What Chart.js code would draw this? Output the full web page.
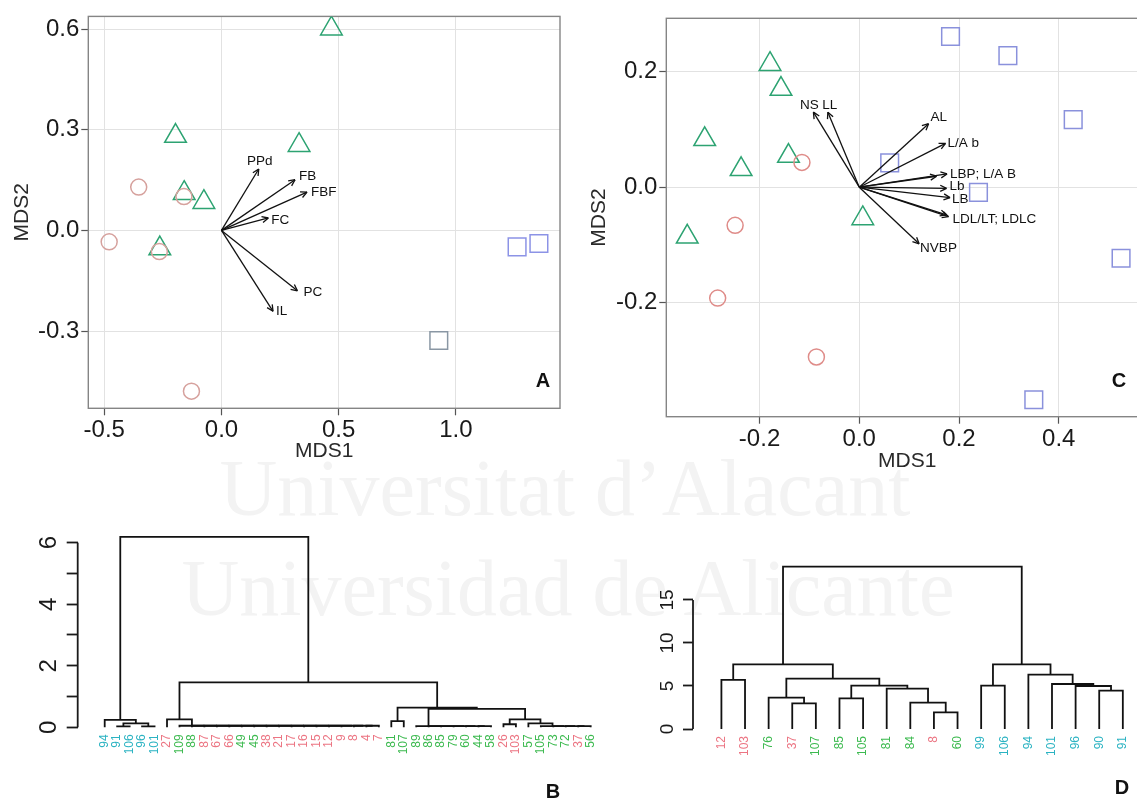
<!DOCTYPE html>
<html>
<head>
<meta charset="utf-8">
<script src="https://cdn.jsdelivr.net/npm/chart.js@4"></script>
<style>
html, body { margin: 0; padding: 0; background: #fff; overflow: hidden; }
#wrap { position: relative; width: 1137px; height: 801px; overflow: hidden; }
canvas { position: absolute; }
.wm { position: absolute; transform: translate(-50%, -50%); font-family: "Liberation Serif", "DejaVu Serif", serif; font-size: 80px; color: #f3f3f3; white-space: nowrap; }
.lab { position: absolute; transform: translate(-50%, -50%); font-family: "Liberation Sans", Arial, sans-serif; font-weight: bold; font-size: 20px; color: #111; }
</style>
</head>
<body>
<div id="wrap">
  <div class="wm" style="left:565px;top:488px">Universitat d’Alacant</div>
  <div class="wm" style="left:568px;top:588px">Universidad de Alicante</div>
  <canvas id="cA" width="580" height="480" style="left:0;top:0"></canvas>
  <canvas id="cC" width="600" height="480" style="left:580px;top:0"></canvas>
  <canvas id="cB" width="620" height="281" style="left:0;top:520px"></canvas>
  <canvas id="cD" width="517" height="281" style="left:620px;top:520px"></canvas>
  <div class="lab" style="left:543px;top:380px">A</div>
  <div class="lab" style="left:1119px;top:380px">C</div>
  <div class="lab" style="left:553px;top:791px">B</div>
  <div class="lab" style="left:1122px;top:787px">D</div>
</div>
<script>
// ---- panel A: MDS ordination, site scores + variable vectors ----
const aCircles   = [[-0.353, 0.129], [-0.479, -0.034], [-0.128, -0.479], [-0.160, 0.101], [-0.265, -0.063]];
const aTriangles = [[0.469, 0.601], [-0.196, 0.281], [0.331, 0.254], [-0.159, 0.111], [-0.075, 0.084], [-0.263, -0.054]];
const aSquares   = [[1.261, -0.049], [1.354, -0.039], [0.927, -0.328]];
const aVarLabel  = ['PPd', 'FB', 'FBF', 'FC', 'PC', 'IL'];
const aVarX      = [0.159, 0.314, 0.365, 0.200, 0.324, 0.220];
const aVarY      = [0.183, 0.151, 0.114, 0.037, -0.180, -0.241];
const aTicksX    = [-0.5, 0.0, 0.5, 1.0];
const aTicksY    = [-0.3, 0.0, 0.3, 0.6];
const aTickLabelsX = ['-0.5', '0.0', '0.5', '1.0'];
const aTickLabelsY = ['-0.3', '0.0', '0.3', '0.6'];

// ---- panel C ----
const cCircles   = [[-0.115, 0.043], [-0.249, -0.066], [-0.284, -0.192], [-0.086, -0.294]];
const cTriangles = [[-0.179, 0.213], [-0.157, 0.170], [-0.310, 0.083], [-0.237, 0.031], [-0.142, 0.054], [-0.345, -0.086], [0.007, -0.054]];
const cSquares   = [[0.183, 0.261], [0.298, 0.228], [0.429, 0.117], [0.061, 0.042], [0.239, -0.009], [0.525, -0.123], [0.350, -0.368]];
const cVarLabel  = ['NS', 'LL', 'AL', 'L/A b', 'LBP; L/A B', '', 'Lb', 'LB', 'LDL/LT; LDLC', '', 'NVBP'];
const cVarX      = [-0.092, -0.063, 0.139, 0.173, 0.176, 0.155, 0.175, 0.182, 0.179, 0.175, 0.120];
const cVarY      = [0.130, 0.130, 0.110, 0.076, 0.023, 0.019, -0.002, -0.018, -0.051, -0.048, -0.098];
const cTicksX    = [-0.2, 0.0, 0.2, 0.4];
const cTicksY    = [-0.2, 0.0, 0.2];
const cTickLabelsX = ['-0.2', '0.0', '0.2', '0.4'];
const cTickLabelsY = ['-0.2', '0.0', '0.2'];

// ---- panel B: dendrogram (merge rows like hclust: -n = leaf n, +k = row k) ----
const bLeaves = ['94','91','106','96','101','27','109','88','87','67','66','49','45','38','21','17','16','15','12','9','8','4','7',
                 '81','107','89','86','85','79','60','44','58','26','103','57','105','73','72','37','56'];
const bGroups = ['c','c','c','c','c','r','g','g','r','r','r','g','g','r','r','r','r','r','r','r','r','r','r',
                 'g','g','g','g','g','g','g','g','g','r','r','g','g','g','g','r','g'];
const bMerges = [
  [-2, -3, 0.03], [-4, -5, 0.03], [1, 2, 0.13], [-1, 3, 0.24],
  [-22, -23, 0.05], [-21, 5, 0.05], [-20, 6, 0.05], [-19, 7, 0.05], [-18, 8, 0.05], [-17, 9, 0.05],
  [-16, 10, 0.05], [-15, 11, 0.05], [-14, 12, 0.05], [-13, 13, 0.05], [-12, 14, 0.05], [-11, 15, 0.05],
  [-10, 16, 0.05], [-9, 17, 0.05], [-8, 18, 0.05], [-7, 19, 0.05],
  [-6, 20, 0.26],
  [-24, -25, 0.20],
  [-31, -32, 0.04], [-30, 23, 0.04], [-29, 24, 0.04], [-28, 25, 0.04], [-27, 26, 0.04], [-26, 27, 0.04],
  [-33, -34, 0.10],
  [-39, -40, 0.04], [-38, 30, 0.04], [-37, 31, 0.04], [-36, 32, 0.04],
  [-35, 33, 0.13],
  [29, 34, 0.26],
  [28, 35, 0.60],
  [22, 36, 0.64],
  [21, 37, 1.46],
  [4, 38, 6.19]
];
const bAxisTicks = [0, 1, 2, 3, 4, 5, 6];
const bTickLabels = [0, 2, 4, 6];

// ---- panel D ----
const dLeaves = ['12','103','76','37','107','85','105','81','84','8','60','99','106','94','101','96','90','91'];
const dGroups = ['r','r','g','r','g','g','g','g','g','r','g','c','c','c','c','c','c','c'];
const dMerges = [
  [-10, -11, 1.94], [-4, -5, 2.98], [-9, 1, 3.06], [-6, -7, 3.57], [-3, 2, 3.64],
  [-17, -18, 4.46], [-8, 3, 4.69], [-16, 6, 5.00], [4, 7, 5.04], [-12, -13, 5.04],
  [-15, 8, 5.23], [-1, -2, 5.70], [5, 9, 5.85], [-14, 11, 6.32], [12, 13, 7.52],
  [10, 14, 7.52], [15, 16, 18.87]
];
const dAxisTicks = [0, 5, 10, 15];
const dTickLabels = [0, 5, 10, 15];

const FONT = '"Liberation Sans", Arial, Helvetica, sans-serif';
Chart.defaults.font.family = FONT;
Chart.defaults.animation = false;
Chart.defaults.plugins.legend.display = false;
Chart.defaults.plugins.tooltip.enabled = false;

const labelColors = { c: '#2bb3c2', r: '#ec7583', g: '#3dba50' };

// grey panel border around the plotting area
const framePlugin = {
  id: 'frame',
  beforeDatasetsDraw(chart, args, o) {
    const a = chart.chartArea, ctx = chart.ctx;
    ctx.save();
    ctx.strokeStyle = o.color;
    ctx.lineWidth = o.width;
    ctx.strokeRect(a.left, a.top, a.right - a.left, a.bottom - a.top);
    ctx.restore();
  }
};

// arrow heads and variable names on the vector datasets
const arrowPlugin = {
  id: 'arrows',
  afterDatasetsDraw(chart) {
    const ctx = chart.ctx;
    chart.data.datasets.forEach((ds, i) => {
      if (ds.arrowLabel === undefined) return;
      const pts = chart.getDatasetMeta(i).data;
      const p0 = pts[0], p1 = pts[1];
      const ang = Math.atan2(p1.y - p0.y, p1.x - p0.x);
      ctx.save();
      ctx.strokeStyle = '#111';
      ctx.lineWidth = 1.3;
      ctx.beginPath();
      [-0.45, 0.45].forEach(d => {
        ctx.moveTo(p1.x, p1.y);
        ctx.lineTo(p1.x - 7 * Math.cos(ang + d), p1.y - 7 * Math.sin(ang + d));
      });
      ctx.stroke();
      if (ds.arrowLabel) {
        const [dx, dy, align] = ds.labelOffset;
        ctx.font = '13.5px ' + FONT;
        ctx.fillStyle = '#111';
        ctx.textAlign = align;
        ctx.textBaseline = 'middle';
        ctx.fillText(ds.arrowLabel, p1.x + dx, p1.y + dy);
      }
      ctx.restore();
    });
  }
};

function mdsChart(id, p) {
  const pts = arr => arr.map(([x, y]) => ({ x, y }));
  const arrows = p.varX.map((vx, i) => ({
    data: [{ x: 0, y: 0 }, { x: vx, y: p.varY[i] }],
    showLine: true, pointRadius: 0, borderColor: '#111', borderWidth: 1.3,
    arrowLabel: p.varLabel[i], labelOffset: p.labelOffset[i], order: 0
  }));
  const axisCommon = {
    type: 'linear',
    border: { display: false },
    grid: { color: '#e2e2e2', lineWidth: 1, tickColor: '#555', tickLength: 7, tickWidth: 1.2 },
  };
  return new Chart(document.getElementById(id), {
    type: 'scatter',
    data: {
      datasets: [
        ...arrows,
        { data: pts(p.circles), pointStyle: 'circle', pointRadius: 8, borderWidth: 1.5,
          borderColor: p.circleColor, backgroundColor: 'rgba(0,0,0,0)', order: 1 },
        { data: pts(p.triangles), pointStyle: 'triangle', pointRadius: 12.5, borderWidth: 1.5,
          borderColor: p.triColor, backgroundColor: 'rgba(0,0,0,0)', order: 2 },
        { data: pts(p.squares), pointStyle: 'rect', pointRadius: 12.5, borderWidth: 1.5,
          borderColor: p.squareColor, backgroundColor: 'rgba(0,0,0,0)', order: 3 }
      ]
    },
    options: {
      responsive: false,
      layout: { padding: p.padding },
      scales: {
        x: {
          ...axisCommon, min: p.xMin, max: p.xMax,
          afterBuildTicks: s => { s.ticks = p.ticksX.map(v => ({ value: v })); },
          afterFit: s => { s.height = p.xAxisH; },
          ticks: { autoSkip: false, maxRotation: 0, padding: 1, color: '#1a1a1a',
                   font: { size: 24 }, callback: (v, i) => p.tickLabelsX[i] },
          title: { display: true, text: 'MDS1', color: '#2a2a2a', font: { size: 21 },
                   padding: { top: 0, bottom: p.xTitlePad } }
        },
        y: {
          ...axisCommon, min: p.yMin, max: p.yMax,
          afterBuildTicks: s => { s.ticks = p.ticksY.map(v => ({ value: v })); },
          afterFit: s => { s.width = p.yAxisW; },
          ticks: { autoSkip: false, padding: 2, color: '#1a1a1a',
                   font: { size: 24 }, callback: (v, i) => p.tickLabelsY[i] },
          title: { display: true, text: 'MDS2', color: '#2a2a2a', font: { size: 21 },
                   padding: { top: p.yTitlePad, bottom: 0 } }
        }
      },
      plugins: { frame: { color: '#858585', width: 1.4 } }
    },
    plugins: [framePlugin, arrowPlugin]
  });
}

// turn merge rows into the U shaped links of the tree
function dendroLinks(merges) {
  const nodes = [];
  const pos = r => r < 0 ? { x: -r - 1, y: 0 } : nodes[r - 1];
  return merges.map(([a, b, h]) => {
    const pa = pos(a), pb = pos(b);
    nodes.push({ x: (pa.x + pb.x) / 2, y: h });
    return [{ x: pa.x, y: pa.y }, { x: pa.x, y: h }, { x: pb.x, y: h }, { x: pb.x, y: pb.y }];
  });
}

// y axis line, rotated tick labels and coloured leaf labels
const dendroPlugin = {
  id: 'dendro',
  afterDraw(chart, args, o) {
    const ctx = chart.ctx, xs = chart.scales.x, ys = chart.scales.y;
    const left = chart.chartArea.left, y0 = ys.getPixelForValue(0);
    ctx.save();
    ctx.strokeStyle = '#1a1a1a';
    ctx.lineWidth = 1.8;
    ctx.beginPath();
    ctx.moveTo(left, y0);
    ctx.lineTo(left, ys.getPixelForValue(o.axisTop));
    ctx.stroke();

    ctx.fillStyle = '#1a1a1a';
    ctx.font = o.tickSize + 'px ' + FONT;
    ctx.textAlign = 'center';
    ctx.textBaseline = 'alphabetic';
    o.tickLabels.forEach(v => {
      ctx.save();
      ctx.translate(left - o.tickGap, ys.getPixelForValue(v));
      ctx.rotate(-Math.PI / 2);
      ctx.fillText(String(v), 0, 0);
      ctx.restore();
    });

    ctx.font = '12px ' + FONT;
    ctx.textAlign = 'right';
    ctx.textBaseline = 'middle';
    o.leaves.forEach((lab, i) => {
      ctx.save();
      ctx.translate(xs.getPixelForValue(i), y0 + 7);
      ctx.rotate(-Math.PI / 2);
      ctx.fillStyle = labelColors[o.groups[i]];
      ctx.fillText(lab, 0, 0);
      ctx.restore();
    });
    ctx.restore();
  }
};

function dendroChart(id, p) {
  const links = dendroLinks(p.merges);
  return new Chart(document.getElementById(id), {
    type: 'scatter',
    data: {
      datasets: links.map(l => ({ data: l, showLine: true, pointRadius: 0, tension: 0,
                                  borderColor: '#111', borderWidth: 1.8 }))
    },
    options: {
      responsive: false,
      layout: { padding: p.padding },
      scales: {
        x: { type: 'linear', display: false, min: p.xMin, max: p.xMax },
        y: {
          type: 'linear', min: p.yMin, max: p.yMax,
          afterBuildTicks: s => { s.ticks = p.axisTicks.map(v => ({ value: v })); },
          afterFit: s => { s.width = p.axisW; },
          border: { display: false },
          ticks: { display: false },
          grid: { drawOnChartArea: false, drawTicks: true, tickLength: p.tickLen,
                  tickColor: '#1a1a1a', tickWidth: 1.8 }
        }
      },
      plugins: {
        dendro: { axisTop: p.axisTicks[p.axisTicks.length - 1], tickLabels: p.tickLabels,
                  tickSize: p.tickSize, tickGap: p.tickGap, leaves: p.leaves, groups: p.groups }
      }
    },
    plugins: [dendroPlugin]
  });
}

mdsChart('cA', {
  circles: aCircles, triangles: aTriangles, squares: aSquares,
  varX: aVarX, varY: aVarY, varLabel: aVarLabel,
  labelOffset: [[1, -8, 'center'], [4, -3, 'left'], [4, 0, 'left'], [3, 2, 'left'], [6, 1, 'left'], [3, 0, 'left']],
  ticksX: aTicksX, ticksY: aTicksY, tickLabelsX: aTickLabelsX, tickLabelsY: aTickLabelsY,
  xMin: -0.568, xMax: 1.444, yMin: -0.530, yMax: 0.6376,
  padding: { left: 0, top: 14, right: 20, bottom: 0 },
  yAxisW: 88.3, xAxisH: 71.7, xTitlePad: 15.7, yTitlePad: 9.6,
  circleColor: '#d6a19d', triColor: '#2da372',
  squareColor: ['#8c93e6', '#8c93e6', '#8a97a4']
});

mdsChart('cC', {
  circles: cCircles, triangles: cTriangles, squares: cSquares,
  varX: cVarX, varY: cVarY, varLabel: cVarLabel,
  labelOffset: [[-4, -7, 'center'], [2, -7, 'center'], [2, -6, 'left'], [2, 0, 'left'], [3, 0, 'left'], [0, 0, 'left'],
                [3, -2, 'left'], [2, 2, 'left'], [4, 3, 'left'], [0, 0, 'left'], [1, 4, 'left']],
  ticksX: cTicksX, ticksY: cTicksY, tickLabelsX: cTickLabelsX, tickLabelsY: cTickLabelsY,
  xMin: -0.387, xMax: 0.579, yMin: -0.3974, yMax: 0.2925,
  padding: { left: 0, top: 18.3, right: 32, bottom: 0 },
  yAxisW: 86.3, xAxisH: 63.3, xTitlePad: 5.7, yTitlePad: 6.9,
  circleColor: '#df8c89', triColor: '#2da372', squareColor: '#8a91dc'
});

dendroChart('cB', {
  merges: bMerges, leaves: bLeaves, groups: bGroups,
  axisTicks: bAxisTicks, tickLabels: bTickLabels,
  xMin: -2.167, xMax: 40.79, yMin: -0.12, yMax: 6.412,
  padding: { left: 0, top: 10, right: 7, bottom: 70 },
  axisW: 77.7, tickLen: 11, tickSize: 24, tickGap: 22
});

dendroChart('cD', {
  merges: dMerges, leaves: dLeaves, groups: dGroups,
  axisTicks: dAxisTicks, tickLabels: dTickLabels,
  xMin: -1.203, xMax: 17.6, yMin: -0.465, yMax: 20.81,
  padding: { left: 0, top: 30, right: 0, bottom: 68 },
  axisW: 73, tickLen: 10, tickSize: 19, tickGap: 20
});
</script>
</body>
</html>
